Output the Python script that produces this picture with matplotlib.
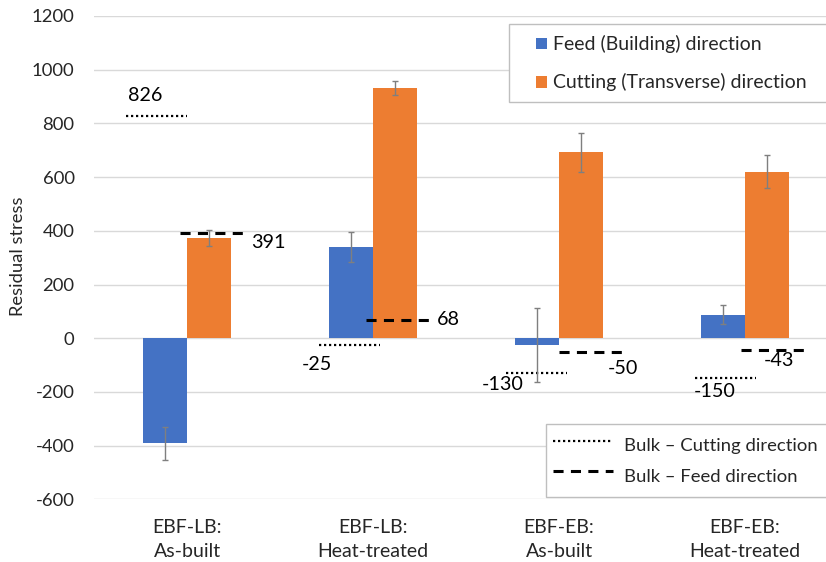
import matplotlib
matplotlib.use("Agg")
import matplotlib.pyplot as plt
import numpy as np
from matplotlib.patches import Rectangle
from matplotlib.legend_handler import HandlerPatch

plt.rcParams['font.family'] = ['Lato', 'DejaVu Sans']
plt.rcParams['axes.unicode_minus'] = False

# ---- data ----
categories = ["EBF-LB:\nAs-built", "EBF-LB:\nHeat-treated",
              "EBF-EB:\nAs-built", "EBF-EB:\nHeat-treated"]
feed = [-391, 339, -26, 87]
feed_err = [62, 56, 138, 35]
cutting = [373, 931, 692, 620]
cutting_err = [30, 27, 73, 62]
bulk_cutting = [826, -25, -130, -150]
bulk_feed = [391, 68, -50, -43]

# ---- styling / layout ----
BLUE = "#4472C4"
ORANGE = "#ED7D31"
GRID = "#d9d9d9"
TEXT = "#262626"
W, H = 826, 562
PX = 72 / 100  # points per pixel

bar_w = 0.239
dot_start = [-0.33, -0.29, -0.285, -0.27]
dot_len = 0.33
dash_start = [-0.04, -0.04, 0.0, -0.02]
dash_len = 0.34
# label offsets from group centre, in pixels (dx right, dy down)
cut_lbl_off = [(-59, -21), (-71, 20), (-77, 11), (-51, 13)]
feed_lbl_off = [(64, 9), (64, 0), (49, 17), (19, 11)]

fig = plt.figure(figsize=(W / 100, H / 100), dpi=100)
ax = fig.add_axes([94 / W, 1 - 499.3 / H, 744 / W, 483.3 / H])

x = np.arange(len(categories))
feed_bars = ax.bar(x - bar_w / 2, feed, bar_w, color=BLUE, zorder=2)
cut_bars = ax.bar(x + bar_w / 2, cutting, bar_w, color=ORANGE, zorder=2)
ekw = dict(fmt="none", ecolor="#7f7f7f", elinewidth=1, capsize=2.5,
           capthick=1, zorder=4)
ax.errorbar(x - bar_w / 2, feed, yerr=feed_err, **ekw)
ax.errorbar(x + bar_w / 2, cutting, yerr=cutting_err, **ekw)

dot_style = dict(color="black", lw=1.6, linestyle=(0, (1.0, 1.25)),
                 dash_capstyle="butt", zorder=3)
dash_style = dict(color="black", lw=2.2, linestyle=(0, (3.3, 2.4)),
                  dash_capstyle="butt", zorder=3)

dot_lines, dash_lines = [], []
for i, xc in enumerate(x):
    x0 = xc + dot_start[i]
    ln, = ax.plot([x0, x0 + dot_len], [bulk_cutting[i]] * 2, **dot_style)
    dot_lines.append(ln)
    x1 = xc + dash_start[i]
    ln, = ax.plot([x1, x1 + dash_len], [bulk_feed[i]] * 2, **dash_style)
    dash_lines.append(ln)
    dx, dy = cut_lbl_off[i]
    ax.annotate(f"{bulk_cutting[i]}", xy=(xc, bulk_cutting[i]),
                xytext=(dx * PX, -dy * PX), textcoords="offset points",
                ha="left", va="center", fontsize=14.2, color="black")
    dx, dy = feed_lbl_off[i]
    ax.annotate(f"{bulk_feed[i]}", xy=(xc, bulk_feed[i]),
                xytext=(dx * PX, -dy * PX), textcoords="offset points",
                ha="left", va="center", fontsize=14.2, color="black")

ax.set_xlim(-0.5, 3.5)
ax.set_ylim(-600, 1200)
ax.set_yticks(np.arange(-600, 1201, 200))
ax.set_xticks(x)
ax.set_xticklabels(categories, linespacing=1.55)
ax.tick_params(axis="y", length=0, pad=14, labelsize=13.3, labelcolor=TEXT)
ax.tick_params(axis="x", length=0, pad=14, labelsize=14, labelcolor=TEXT)
ax.grid(axis="y", color=GRID, lw=1, zorder=0)
ax.set_axisbelow(True)
for s in ax.spines.values():
    s.set_visible(False)
fig.text(18.5 / W, 1 - 256 / H, "Residual stress", rotation=90, ha="center",
         va="center", fontsize=13.2, color=TEXT)


def square_patch(legend, orig_handle, xdescent, ydescent, width, height, fontsize):
    s = 0.57 * fontsize
    return Rectangle((width - s - xdescent, (height - s) / 2 - ydescent), s, s)


leg1 = ax.legend([feed_bars.patches[0], cut_bars.patches[0]],
                 ["Feed (Building) direction", "Cutting (Transverse) direction"],
                 loc="upper left", mode="expand",
                 bbox_to_anchor=(509 / W, 1 - 99 / H, (860 - 509) / W, 75 / H),
                 bbox_transform=fig.transFigure, borderaxespad=0,
                 fontsize=14, frameon=True, fancybox=False, framealpha=1,
                 edgecolor="#bfbfbf", borderpad=0.3, labelspacing=0.52,
                 handlelength=1.65, handleheight=1.84, handletextpad=0.31,
                 handler_map={Rectangle: HandlerPatch(patch_func=square_patch)})
leg1.get_frame().set_linewidth(1)
for t in leg1.get_texts():
    t.set_color(TEXT)
ax.add_artist(leg1)

leg2 = ax.legend([dot_lines[0], dash_lines[0]],
                 ["Bulk \u2013 Cutting direction", "Bulk \u2013 Feed direction"],
                 loc="upper left", mode="expand",
                 bbox_to_anchor=(546 / W, 1 - 497 / H, (860 - 546) / W, 73 / H),
                 bbox_transform=fig.transFigure, borderaxespad=0,
                 fontsize=13.3, frameon=True, fancybox=False, framealpha=1,
                 edgecolor="#bfbfbf", borderpad=0.38, labelspacing=0.1,
                 handlelength=3.25, handleheight=2.0, handletextpad=0.6)
leg2.get_frame().set_linewidth(1)
for t in leg2.get_texts():
    t.set_color(TEXT)

fig.savefig("out.png", dpi=100)
